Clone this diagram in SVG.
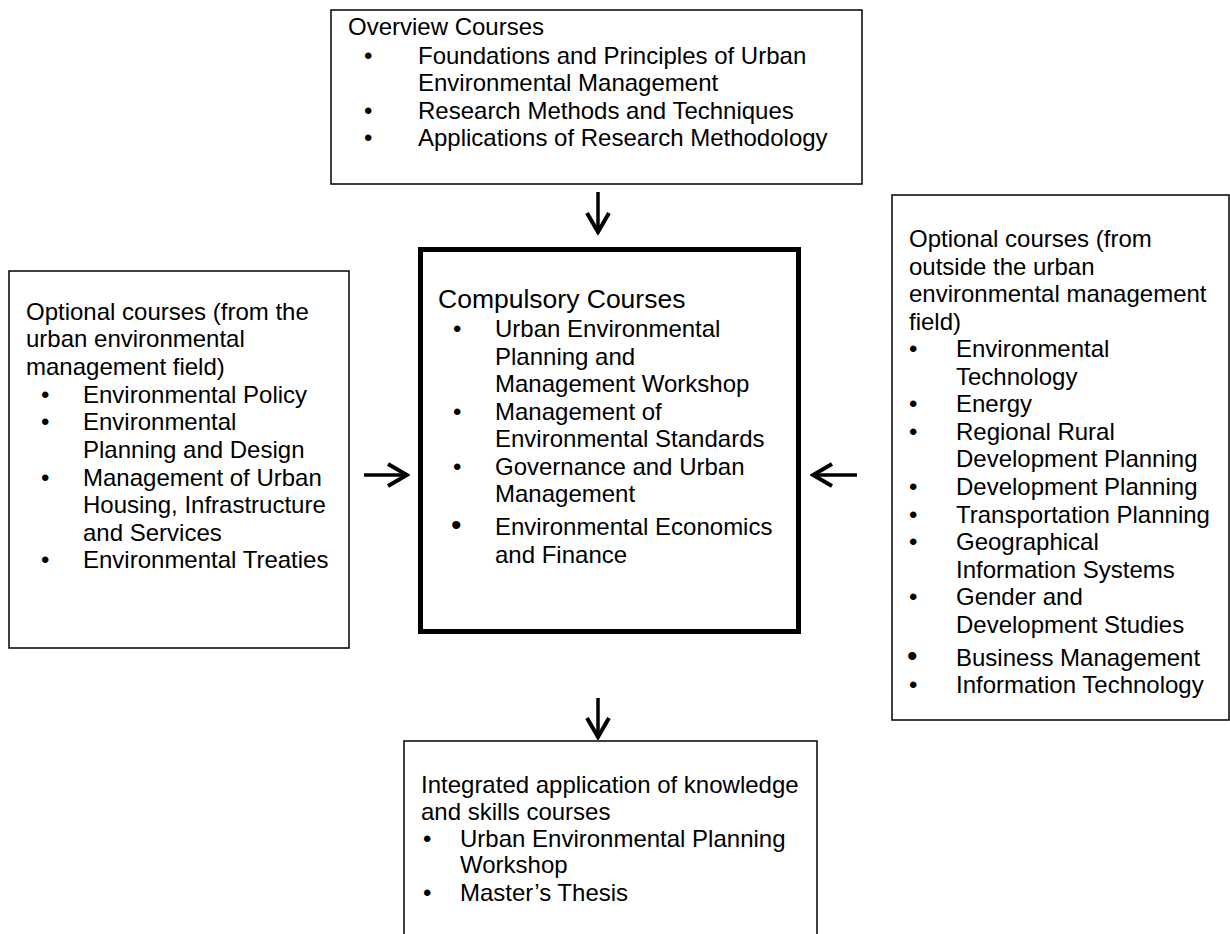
<svg xmlns="http://www.w3.org/2000/svg" width="1230" height="934" viewBox="0 0 1230 934">
<style>
.bg{fill:#fff}
.box{fill:#fff;stroke:#000;stroke-width:1.5}
.main{fill:#fff;stroke:#000;stroke-width:5}
text{font-family:"Liberation Sans",Arial,sans-serif;font-size:24px;fill:#000}
.h2{font-size:26.5px}
.bb{font-size:30px}
.conn{stroke:#000;stroke-width:3.5;fill:none}
</style>
<defs>
<marker id="ah" viewBox="0 0 24 26" refX="20" refY="13" markerWidth="24" markerHeight="26" markerUnits="userSpaceOnUse" orient="auto">
<path d="M2,2 L21,13 L2,24" fill="none" stroke="#000" stroke-width="4" stroke-linejoin="miter"/>
</marker>
</defs>
<rect class="bg" x="0" y="0" width="1230" height="934"/>

<g id="overview">
<rect class="box" x="331" y="10" width="531" height="174"/>
<text x="348" y="35">Overview Courses</text>
<text x="364" y="64">•</text>
<text x="418" y="64">Foundations and Principles of Urban</text>
<text x="418" y="91">Environmental Management</text>
<text x="364" y="119">•</text>
<text x="418" y="119">Research Methods and Techniques</text>
<text x="364" y="146">•</text>
<text x="418" y="146">Applications of Research Methodology</text>
</g>

<g id="compulsory">
<rect class="main" x="420.5" y="249.5" width="378" height="382"/>
<text class="h2" x="438" y="308">Compulsory Courses</text>
<text x="453" y="337">•</text>
<text x="495" y="337">Urban Environmental</text>
<text x="495" y="365">Planning and</text>
<text x="495" y="392">Management Workshop</text>
<text x="453" y="420">•</text>
<text x="495" y="420">Management of</text>
<text x="495" y="447">Environmental Standards</text>
<text x="453" y="475">•</text>
<text x="495" y="475">Governance and Urban</text>
<text x="495" y="502">Management</text>
<text class="bb" x="451" y="535">•</text>
<text x="495" y="535">Environmental Economics</text>
<text x="495" y="563">and Finance</text>
</g>

<g id="optional-inside">
<rect class="box" x="9" y="271" width="340" height="377"/>
<text x="26" y="320">Optional courses (from the</text>
<text x="26" y="347">urban environmental</text>
<text x="26" y="375">management field)</text>
<text x="41" y="403">•</text>
<text x="83" y="403">Environmental Policy</text>
<text x="41" y="430">•</text>
<text x="83" y="430">Environmental</text>
<text x="83" y="458">Planning and Design</text>
<text x="41" y="486">•</text>
<text x="83" y="486">Management of Urban</text>
<text x="83" y="513">Housing, Infrastructure</text>
<text x="83" y="541">and Services</text>
<text x="41" y="568">•</text>
<text x="83" y="568">Environmental Treaties</text>
</g>

<g id="optional-outside">
<rect class="box" x="892" y="195" width="337" height="525"/>
<text x="909" y="247">Optional courses (from</text>
<text x="909" y="275">outside the urban</text>
<text x="909" y="302">environmental management</text>
<text x="909" y="330">field)</text>
<text x="909" y="357">•</text>
<text x="956" y="357">Environmental</text>
<text x="956" y="385">Technology</text>
<text x="909" y="412">•</text>
<text x="956" y="412">Energy</text>
<text x="909" y="440">•</text>
<text x="956" y="440">Regional Rural</text>
<text x="956" y="467">Development Planning</text>
<text x="909" y="495">•</text>
<text x="956" y="495">Development Planning</text>
<text x="909" y="523">•</text>
<text x="956" y="523">Transportation Planning</text>
<text x="909" y="550">•</text>
<text x="956" y="550">Geographical</text>
<text x="956" y="578">Information Systems</text>
<text x="909" y="605">•</text>
<text x="956" y="605">Gender and</text>
<text x="956" y="633">Development Studies</text>
<text class="bb" x="907" y="666">•</text>
<text x="956" y="666">Business Management</text>
<text x="909" y="693">•</text>
<text x="956" y="693">Information Technology</text>
</g>

<g id="integrated">
<rect class="box" x="404" y="741" width="413" height="200"/>
<text x="421" y="793">Integrated application of knowledge</text>
<text x="421" y="820">and skills courses</text>
<text x="423" y="847">•</text>
<text x="460" y="847">Urban Environmental Planning</text>
<text x="460" y="873">Workshop</text>
<text x="423" y="901">•</text>
<text x="460" y="901">Master’s Thesis</text>
</g>

<g id="connectors">
<line class="conn" x1="598" y1="192" x2="598" y2="231" marker-end="url(#ah)"/>
<line class="conn" x1="364" y1="475" x2="406" y2="475" marker-end="url(#ah)"/>
<line class="conn" x1="857" y1="475" x2="814" y2="475" marker-end="url(#ah)"/>
<line class="conn" x1="598" y1="698" x2="598" y2="736" marker-end="url(#ah)"/>
</g>
</svg>
